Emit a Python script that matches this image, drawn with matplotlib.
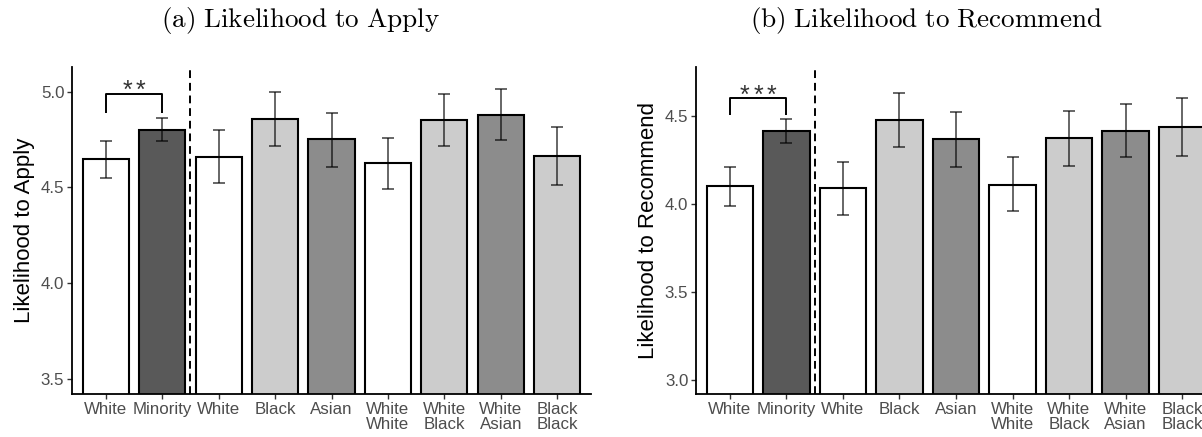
import matplotlib
matplotlib.use("Agg")
import matplotlib.pyplot as plt
import numpy as np

# group labels along the x axis
categories = ['White', 'Minority', 'White', 'Black', 'Asian',
              'White\nWhite', 'White\nBlack', 'White\nAsian', 'Black\nBlack']
bar_colors = ['#FFFFFF', '#595959', '#FFFFFF', '#CCCCCC', '#8C8C8C',
              '#FFFFFF', '#CCCCCC', '#8C8C8C', '#CCCCCC']

# means and 95% CI bounds
apply_mean = [4.648, 4.802, 4.661, 4.856, 4.752, 4.627, 4.854, 4.880, 4.665]
apply_lo = [4.550, 4.743, 4.526, 4.719, 4.609, 4.490, 4.717, 4.748, 4.514]
apply_hi = [4.740, 4.865, 4.799, 4.997, 4.891, 4.757, 4.990, 5.014, 4.816]

recommend_mean = [4.102, 4.418, 4.093, 4.477, 4.369, 4.111, 4.375, 4.418, 4.437]
recommend_lo = [3.992, 4.347, 3.938, 4.322, 4.212, 3.958, 4.219, 4.269, 4.276]
recommend_hi = [4.210, 4.486, 4.240, 4.632, 4.526, 4.267, 4.532, 4.568, 4.602]

apply_ticks = [3.5, 4.0, 4.5, 5.0]
recommend_ticks = [3.0, 3.5, 4.0, 4.5]

plt.rcParams['font.family'] = ['Liberation Sans', 'DejaVu Sans']
plt.rcParams['mathtext.fontset'] = 'cm'

W, H = 1202, 437
fig = plt.figure(figsize=(W / 100, H / 100), dpi=100)


def px_axes(left, top, right, bottom):
    return fig.add_axes([left / W, 1 - bottom / H, (right - left) / W, (bottom - top) / H])


def draw_panel(ax, mean, lo, hi, ylim, yticks, ylabel, stars, bracket, star_y):
    x = np.arange(1, len(categories) + 1)
    mean = np.array(mean)
    ax.bar(x, mean, width=0.82, color=bar_colors, edgecolor='black',
           linewidth=1.5, zorder=2)
    err = [mean - np.array(lo), np.array(hi) - mean]
    ax.errorbar(x, mean, yerr=err, fmt='none', ecolor='black', alpha=0.6,
                elinewidth=1.4, capsize=4, capthick=1.4, zorder=3)
    ax.axvline(2.5, color='black', linewidth=1.4, linestyle=(0, (4, 2.5)), zorder=4)

    # significance bracket between the first two bars
    top, low = bracket
    ax.plot([1, 1, 2, 2], [low, top, top, low], color='black', linewidth=1.4,
            solid_capstyle='butt', clip_on=False, zorder=4)
    offsets = (np.arange(stars) - (stars - 1) / 2) * 0.24
    for dx in offsets:
        ax.text(1.5 + dx, star_y, '*', ha='center', va='baseline', fontsize=18,
                color='#333333')

    ax.set_xlim(0.4, 9.6)
    ax.set_ylim(*ylim)
    ax.set_xticks(x)
    ax.set_xticklabels(categories, fontsize=12.2, color='#4D4D4D', linespacing=1.0,
                       va='top')
    ax.set_yticks(yticks)
    ax.set_yticklabels([f'{t:.1f}' for t in yticks], fontsize=12.2, color='#4D4D4D')
    ax.set_ylabel(ylabel, fontsize=16, color='black')
    for side in ('top', 'right'):
        ax.spines[side].set_visible(False)
    for side in ('left', 'bottom'):
        ax.spines[side].set_linewidth(1.3)
    ax.tick_params(axis='both', length=3.5, width=1.0, color='#333333', pad=2)


ax1 = px_axes(72, 66.7, 591, 394)
draw_panel(ax1, apply_mean, apply_lo, apply_hi, (3.423, 5.13), apply_ticks,
           'Likelihood to Apply', 2, (4.988, 4.887), 4.965)
ax1.yaxis.set_label_coords(-0.072, 0.5)

ax2 = px_axes(696, 67.3, 1216, 394)
draw_panel(ax2, recommend_mean, recommend_lo, recommend_hi, (2.92, 4.778),
           recommend_ticks, 'Likelihood to Recommend', 3, (4.606, 4.507), 4.573)
ax2.yaxis.set_label_coords(-0.072, 0.5)

fig.text(300 / W, 1 - 21 / H, r'$\mathrm{(a)\ Likelihood\ to\ Apply}$',
         ha='center', va='center', fontsize=19.5)
fig.text(926 / W, 1 - 21 / H, r'$\mathrm{(b)\ Likelihood\ to\ Recommend}$',
         ha='center', va='center', fontsize=19.5)

fig.savefig('out.png', dpi=100)
